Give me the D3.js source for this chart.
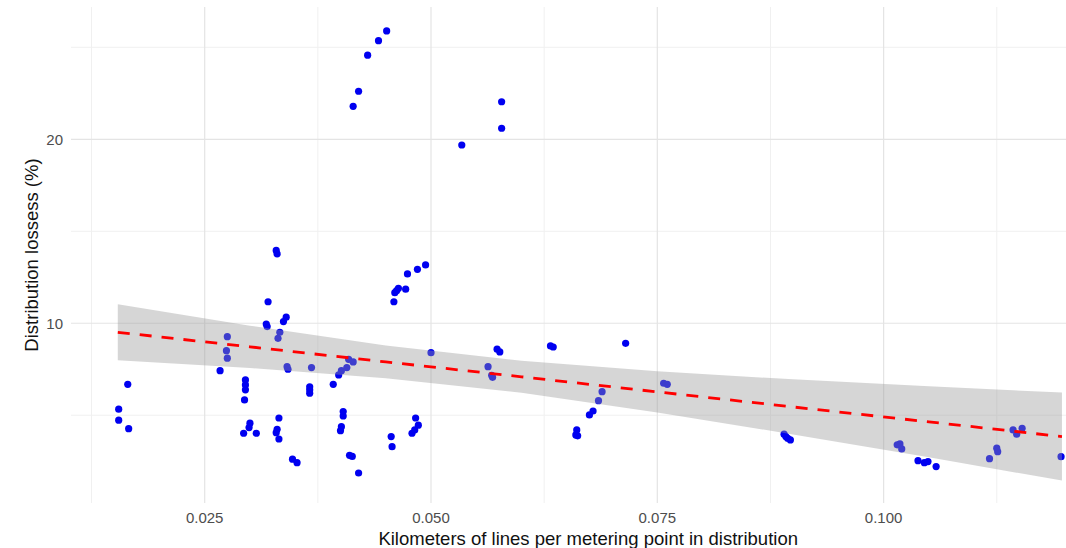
<!DOCTYPE html>
<html>
<head>
<meta charset="utf-8">
<script src="https://cdn.jsdelivr.net/npm/d3@7"></script>
<style>
  body { margin: 0; background: #fff; }
  svg { display: block; font-family: "Liberation Sans", Arial, sans-serif; }
</style>
</head>
<body>
<svg width="1066" height="548"></svg>
<script>
// km of lines per metering point (x) vs distribution losses in % (y)
var pointX = [0.0155, 0.0155, 0.0165, 0.0166, 0.0267, 0.0275, 0.0274, 0.0275, 0.0295, 0.0295,
              0.0295, 0.0294, 0.0300, 0.0299, 0.0293, 0.0307, 0.0320, 0.0318, 0.0319, 0.0340,
              0.0337, 0.0333, 0.0331, 0.0341, 0.0342, 0.0332, 0.0330, 0.0329, 0.0332, 0.0347,
              0.0352, 0.0329, 0.0330, 0.0368, 0.0366, 0.0366, 0.0366, 0.0392, 0.0398, 0.0401,
              0.0407, 0.0409, 0.0414, 0.0403, 0.0403, 0.0401, 0.0400, 0.0410, 0.0413, 0.0420,
              0.0451, 0.0442, 0.0430, 0.0420, 0.0414, 0.0578, 0.0578, 0.0534, 0.0494, 0.0485,
              0.0474, 0.0464, 0.0462, 0.0460, 0.0472, 0.0459, 0.0500, 0.0456, 0.0457, 0.0483,
              0.0486, 0.0482, 0.0479, 0.0563, 0.0567, 0.0568, 0.0573, 0.0576, 0.0632, 0.0635,
              0.0715, 0.0757, 0.0761, 0.0689, 0.0685, 0.0679, 0.0675, 0.0661, 0.0660, 0.0662,
              0.0890, 0.0892, 0.0894, 0.0897, 0.1015, 0.1018, 0.1020, 0.1038, 0.1045, 0.1049,
              0.1058, 0.1117, 0.1125, 0.1126, 0.1143, 0.1147, 0.1153, 0.1196];
var pointY = [5.33, 4.73, 6.68, 4.27, 7.42, 9.27, 8.51, 8.10, 6.92, 6.65,
              6.38, 5.83, 4.57, 4.33, 4.02, 4.02, 11.17, 9.96, 9.82, 10.33,
              10.09, 9.51, 9.18, 7.64, 7.50, 4.85, 4.24, 4.05, 3.71, 2.61,
              2.42, 13.96, 13.77, 7.59, 6.55, 6.38, 6.20, 6.68, 7.19, 7.42,
              7.59, 8.04, 7.90, 5.20, 4.96, 4.38, 4.16, 2.82, 2.76, 1.86,
              25.89, 25.36, 24.57, 22.61, 21.79, 22.04, 20.60, 19.69, 13.17, 12.93,
              12.68, 11.90, 11.77, 11.66, 11.85, 11.17, 8.40, 3.84, 3.29, 4.85,
              4.46, 4.20, 4.02, 7.64, 7.17, 7.06, 8.59, 8.44, 8.77, 8.71,
              8.91, 6.74, 6.68, 6.28, 5.79, 5.23, 5.02, 4.20, 3.93, 3.88,
              3.97, 3.84, 3.75, 3.66, 3.39, 3.44, 3.17, 2.53, 2.42, 2.48,
              2.21, 2.64, 3.21, 3.02, 4.20, 3.97, 4.29, 2.75];

// linear fit and its confidence band
var smoothX   = [0.0154, 0.030, 0.045, 0.060, 0.075, 0.090, 0.105, 0.1197];
var smoothFit = [9.51, 8.72, 7.90, 7.09, 6.27, 5.45, 4.64, 3.84];
var smoothLo  = [7.99, 7.57, 7.01, 6.22, 5.15, 3.96, 2.71, 1.45];
var smoothHi  = [11.03, 9.87, 8.79, 7.96, 7.39, 6.95, 6.57, 6.23];

var xMajor = [0.025, 0.050, 0.075, 0.100];
var xMinor = [0.0125, 0.0375, 0.0625, 0.0875, 0.1125];
var yMajor = [10, 20];
var yMinor = [5, 15, 25];

var svg = d3.select("svg"),
    width = +svg.attr("width"),
    height = +svg.attr("height");

var x = d3.scaleLinear().domain([0.01023, 0.1245]).range([71, 1105.4]);
var y = d3.scaleLinear().domain([0.23, 27.19]).range([503, 7]);

var grid = svg.append("g");
grid.selectAll("line.xmin").data(xMinor).enter().append("line")
    .attr("x1", function(d) { return x(d); }).attr("x2", function(d) { return x(d); })
    .attr("y1", y.range()[1]).attr("y2", y.range()[0])
    .attr("stroke", "#f0f0f0").attr("stroke-width", 1);
grid.selectAll("line.ymin").data(yMinor).enter().append("line")
    .attr("x1", x.range()[0]).attr("x2", x.range()[1])
    .attr("y1", function(d) { return y(d); }).attr("y2", function(d) { return y(d); })
    .attr("stroke", "#f0f0f0").attr("stroke-width", 1);
grid.selectAll("line.xmaj").data(xMajor).enter().append("line")
    .attr("x1", function(d) { return x(d); }).attr("x2", function(d) { return x(d); })
    .attr("y1", y.range()[1]).attr("y2", y.range()[0])
    .attr("stroke", "#e4e4e4").attr("stroke-width", 1.2);
grid.selectAll("line.ymaj").data(yMajor).enter().append("line")
    .attr("x1", x.range()[0]).attr("x2", x.range()[1])
    .attr("y1", function(d) { return y(d); }).attr("y2", function(d) { return y(d); })
    .attr("stroke", "#e4e4e4").attr("stroke-width", 1.2);

// points first, the grey band sits on top of them (as in ggplot)
svg.append("g").selectAll("circle")
    .data(pointX)
    .enter().append("circle")
    .attr("cx", function(d) { return x(d); })
    .attr("cy", function(d, i) { return y(pointY[i]); })
    .attr("r", 3.6)
    .attr("fill", "#0000f0");

var area = d3.area()
    .x(function(d) { return x(d); })
    .y0(function(d, i) { return y(smoothLo[i]); })
    .y1(function(d, i) { return y(smoothHi[i]); });
svg.append("path")
    .datum(smoothX)
    .attr("d", area)
    .attr("fill", "#999999")
    .attr("fill-opacity", 0.4);

var line = d3.line()
    .x(function(d) { return x(d); })
    .y(function(d, i) { return y(smoothFit[i]); });
svg.append("path")
    .datum(smoothX)
    .attr("d", line)
    .attr("fill", "none")
    .attr("stroke", "#ff0000")
    .attr("stroke-width", 2.8)
    .attr("stroke-dasharray", "12,10");

// tick labels
svg.append("g").selectAll("text")
    .data(xMajor)
    .enter().append("text")
    .attr("x", function(d) { return x(d); })
    .attr("y", 523)
    .attr("text-anchor", "middle")
    .attr("font-size", 15)
    .attr("fill", "#4d4d4d")
    .text(d3.format(".3f"));
svg.append("g").selectAll("text")
    .data(yMajor)
    .enter().append("text")
    .attr("x", 63)
    .attr("y", function(d) { return y(d); })
    .attr("dy", "0.35em")
    .attr("text-anchor", "end")
    .attr("font-size", 15)
    .attr("fill", "#4d4d4d")
    .text(function(d) { return d; });

// axis titles
svg.append("text")
    .attr("x", (x.range()[0] + x.range()[1]) / 2)
    .attr("y", 545)
    .attr("text-anchor", "middle")
    .attr("font-size", 18.5)
    .attr("fill", "#111")
    .text("Kilometers of lines per metering point in distribution");
svg.append("text")
    .attr("transform", "translate(38," + (y.range()[0] + y.range()[1]) / 2 + ") rotate(-90)")
    .attr("text-anchor", "middle")
    .attr("font-size", 18.5)
    .attr("fill", "#111")
    .text("Distribution lossess (%)");
</script>
</body>
</html>
